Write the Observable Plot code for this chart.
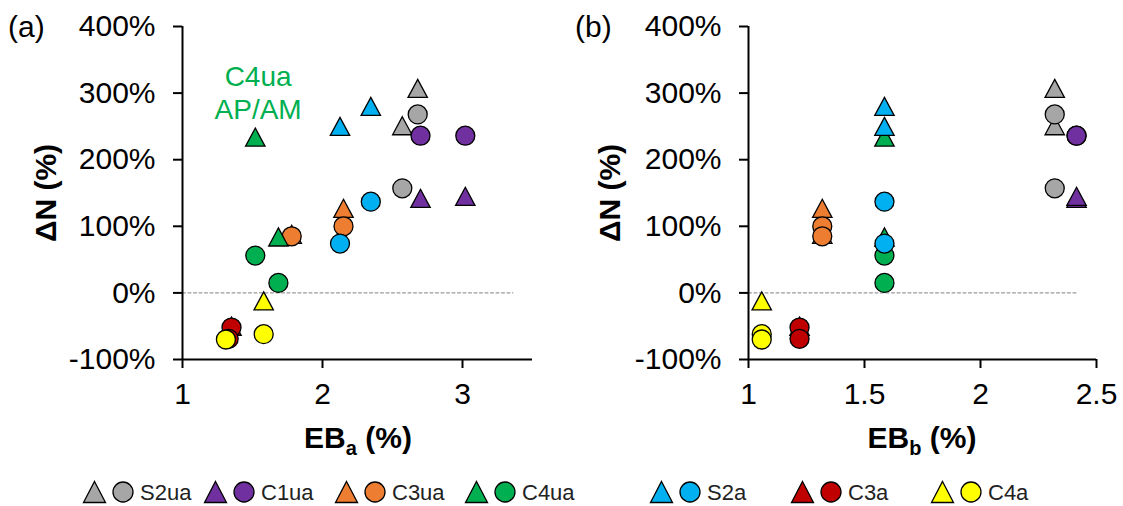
<!DOCTYPE html>
<html><head><meta charset="utf-8">
<script src="https://cdn.jsdelivr.net/npm/d3@7"></script>
<script src="https://cdn.jsdelivr.net/npm/@observablehq/plot@0.6"></script>
<style>
body{margin:0;background:#fff;font-family:"Liberation Sans",Arial,sans-serif}
#wrap{position:relative;width:1123px;height:506px;overflow:hidden}
#wrap > svg{position:absolute}
</style>
</head><body><div id="wrap"></div>
<script>
// ---- data ----
const series = ["S2ua","C1ua","C3ua","C4ua","S2a","C3a","C4a"];
const rowSeries = ["S2ua","S2ua","C1ua","C1ua","C3ua","C3ua","C4ua","C4ua","S2a","S2a","C3a","C3a","C4a","C4a"];
const ebA = [2.68,2.57, 2.70,3.02, 2.15,1.78, 1.52,1.685, 2.125,2.345, 1.35,1.33, 1.58,1.31];
const ebB = [2.32,2.32, 2.414,2.414, 1.318,1.318, 1.586,1.586, 1.586,1.586, 1.22,1.22, 1.057,1.057];
const dnTriangle = [307,251, 142,145, 127,88, 234,84, 250,280, -50,null, -12,null];
const dnCircle = [268,157, 236,236, 100,85, 56,15, 74,137, -52,-69, -62,-70];
const yTicks = [-100,0,100,200,300,400];
const xTicksA = [1,2,3];
const xTicksB = [1,1.5,2,2.5];
const zeroLineA = [1, 3.36];
const zeroLineB = [1, 2.42];
const annotText = ["C4ua\nAP/AM"];
const annotX = [1.54];
const annotY = [302];

// ---- styles ----
const colors = ["#A6A6A6","#7030A0","#ED7D31","#00B050","#00B0F0","#C00000","#FFFF00"];
const FONT = '"Liberation Sans", Arial, sans-serif';

const rows = rowSeries.map((s,i)=>({series:s, ebA:ebA[i], ebB:ebB[i], tri:dnTriangle[i], circ:dnCircle[i]}));

const triangle = {
  draw(ctx, size){
    const r = Math.sqrt(size/Math.PI);
    const w = r*1.02, h = r*0.95;
    ctx.moveTo(0,-h); ctx.lineTo(w,h); ctx.lineTo(-w,h); ctx.closePath();
  }
};

function panel(opt){
  const marks = [
    Plot.line(opt.zero.map(x=>({x, y:0})), {x:"x", y:"y", stroke:"#808080", strokeWidth:1, strokeDasharray:"3,2.5"}),
    Plot.ruleX([opt.domain[0]], {stroke:"black", strokeWidth:2}),
    Plot.ruleY([-100], {stroke:"black", strokeWidth:2}),
    Plot.axisX({ticks:opt.ticks, tickSize:9, tickPadding:14, fontSize:30, strokeWidth:2, label:null, tickFormat:d=>String(d)}),
    Plot.axisY({ticks:yTicks, tickSize:9, tickPadding:18, fontSize:30, strokeWidth:2, label:null, tickFormat:d=>d+"%"})
  ];
  series.forEach((s,i)=>{
    const r = rows.filter(d=>d.series===s);
    marks.push(Plot.dot(r.filter(d=>d.tri!=null), {x:opt.key, y:"tri", symbol:triangle, r:9.5, fill:colors[i], stroke:"black", strokeWidth:1.3}));
    marks.push(Plot.dot(r, {x:opt.key, y:"circ", r:9.5, fill:colors[i], stroke:"black", strokeWidth:1.3}));
  });
  if (opt.annot) {
    marks.push(Plot.text(annotText.map((t,i)=>({t, x:annotX[i], y:annotY[i]})), {x:"x", y:"y", text:"t", fill:"#00B050", fontSize:28, lineHeight:1.2, fontFamily:FONT}));
  }
  const svg = Plot.plot({
    width: opt.width, height: 460,
    marginLeft: opt.marginLeft, marginRight: opt.marginRight, marginTop: 26, marginBottom: 101,
    x: {domain: opt.domain},
    y: {domain: [-100, 400]},
    style: {fontFamily: FONT, color: "black", background: "transparent", overflow: "visible"},
    marks
  });
  svg.style.left = opt.left + "px";
  svg.style.top = "0px";
  const s = d3.select(svg);
  // x title with subscript
  const xt = s.append("text").attr("x", opt.xTitleX).attr("y", 448).attr("text-anchor","middle")
    .attr("font-family", FONT).attr("font-weight","bold").attr("font-size",30).attr("fill","black");
  xt.append("tspan").text("EB");
  xt.append("tspan").attr("font-size",20).attr("dy",7).text(opt.sub);
  xt.append("tspan").attr("dy",-7).text(" (%)");
  // y title
  s.append("text").attr("transform",`translate(${opt.yTitleX},193) rotate(-90)`).attr("text-anchor","middle")
    .attr("font-family", FONT).attr("font-weight","bold").attr("font-size",30).attr("fill","black").text("ΔN (%)");
  // panel label
  s.append("text").attr("x", opt.labelX).attr("y", 37).attr("text-anchor","start").attr("font-family", FONT).attr("font-size",30).attr("fill","black").text(opt.label);
  return svg;
}

const wrap = document.getElementById("wrap");
wrap.appendChild(panel({key:"ebA", domain:[1,3.5], ticks:xTicksA, zero:zeroLineA, left:0, width:560, marginLeft:182, marginRight:28,
  annot:true, xTitleX:358, sub:"a", yTitleX:56, labelX:8, label:"(a)"}));
wrap.appendChild(panel({key:"ebB", domain:[1,2.5], ticks:xTicksB, zero:zeroLineB, left:560, width:563, marginLeft:188, marginRight:27,
  annot:false, xTitleX:362, sub:"b", yTitleX:60, labelX:15, label:"(b)"}));

// legend
const legendLeft = [83, 204, 335, 465, 650, 791, 931];
const lg = d3.select(wrap).append("svg").attr("width",1123).attr("height",46).style("left","0px").style("top","460px");
series.forEach((s,i)=>{
  const g = lg.append("g").attr("transform",`translate(${legendLeft[i]},32)`);
  g.append("path").attr("d","M11.5,-10.5L22.5,10.5L0.5,10.5Z").attr("fill",colors[i]).attr("stroke","black").attr("stroke-width",1.3);
  g.append("circle").attr("cx",40).attr("cy",0).attr("r",10).attr("fill",colors[i]).attr("stroke","black").attr("stroke-width",1.3);
  g.append("text").attr("x",57).attr("y",8).attr("text-anchor","start").attr("font-family",FONT).attr("font-size",22).attr("fill","#222").text(s);
});
</script>
</body></html>
